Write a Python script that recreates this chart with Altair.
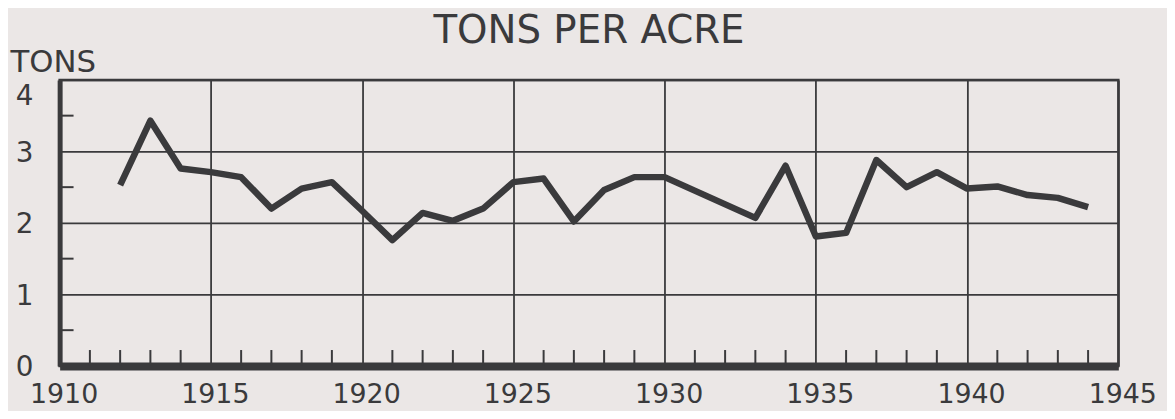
import altair as alt
import pandas as pd

# Data
years = [1912, 1913, 1914, 1915, 1916, 1917, 1918, 1919, 1920, 1921, 1922, 1923,
         1924, 1925, 1926, 1927, 1928, 1929, 1930, 1933, 1934, 1935, 1936, 1937,
         1938, 1939, 1940, 1941, 1942, 1943, 1944]
tons = [2.53, 3.43, 2.76, 2.71, 2.64, 2.20, 2.48, 2.57, 2.17, 1.76, 2.14, 2.03,
        2.20, 2.57, 2.62, 2.02, 2.46, 2.64, 2.64, 2.07, 2.80, 1.81, 1.86, 2.88,
        2.50, 2.71, 2.48, 2.51, 2.39, 2.35, 2.22]

x_major = [1910, 1915, 1920, 1925, 1930, 1935, 1940, 1945]
x_minor = [1911, 1912, 1913, 1914, 1916, 1917, 1918, 1919, 1921, 1922, 1923, 1924,
           1926, 1927, 1928, 1929, 1931, 1932, 1933, 1934, 1936, 1937, 1938, 1939,
           1941, 1942, 1943, 1944]
y_major = [0, 1, 2, 3, 4]
y_minor = [0.5, 1.5, 2.5, 3.5]

INK = "#3a3a3c"
BG = "#ebe7e6"
FONT = "DejaVu Sans"
W, H = 1066, 288

df = pd.DataFrame({"year": years, "tons": tons})
df_xminor = pd.DataFrame({"year": x_minor})
df_yminor = pd.DataFrame({"tons": y_minor})

xscale = alt.Scale(domain=[1910, 1945], nice=False, zero=False)
yscale = alt.Scale(domain=[0, 4], nice=False)

xaxis = alt.Axis(values=x_major, format="d", grid=True, gridColor=INK, gridWidth=1.8,
                 ticks=False, domainColor=INK, domainWidth=8, labelFontSize=27,
                 labelFont=FONT, labelColor=INK, labelPadding=16, labelOffset=4,
                 labelFlush=False, title=None)
yaxis = alt.Axis(values=y_major, format="d", grid=True, gridColor=INK, gridWidth=1.8,
                 ticks=False, domainColor=INK, domainWidth=5, labelFontSize=28,
                 labelFont=FONT, labelColor=INK, labelPadding=27,
                 labelOffset={"condition": {"test": "datum.value == 4", "value": 17},
                              "value": 2},
                 title="TONS", titleAngle=0, titleX=-50, titleY=-8,
                 titleAlign="left", titleBaseline="alphabetic", titleFontSize=31,
                 titleFont=FONT, titleFontWeight="normal", titleColor=INK)

line = alt.Chart(df).mark_line(color=INK, strokeWidth=6.5, strokeJoin="round",
                               strokeCap="butt").encode(
    x=alt.X("year:Q", scale=xscale, axis=xaxis),
    y=alt.Y("tons:Q", scale=yscale, axis=yaxis),
)

xticks = alt.Chart(df_xminor).mark_rule(color=INK, strokeWidth=2).encode(
    x=alt.X("year:Q", scale=xscale),
    y=alt.value(H),
    y2=alt.value(H - 16),
)

yticks = alt.Chart(df_yminor).mark_rule(color=INK, strokeWidth=2).encode(
    y=alt.Y("tons:Q", scale=yscale),
    x=alt.value(0),
    x2=alt.value(14),
)

chart = alt.layer(xticks, yticks, line).properties(
    width=W, height=H,
    title=alt.TitleParams("TONS PER ACRE", fontSize=39, font=FONT, fontWeight="normal",
                          color=INK, anchor="middle", frame="group", offset=-4),
    background=BG,
    padding={"left": 52, "top": 71, "right": 49, "bottom": 44},
    autosize=alt.AutoSizeParams(type="none"),
).configure_view(stroke=INK, strokeWidth=2.5)

chart.save("out.html", embed_options={"renderer": "svg", "actions": False})
